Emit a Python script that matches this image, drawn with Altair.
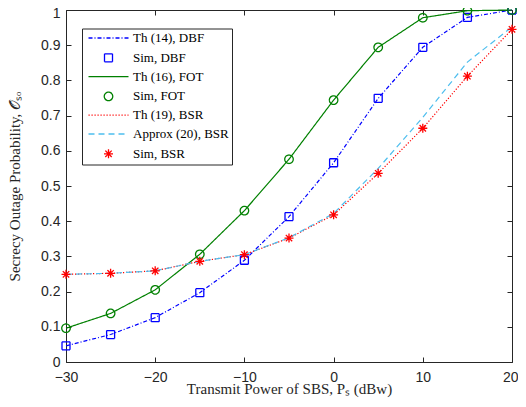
import altair as alt
import pandas as pd

# ---- data ----
power = [-30, -25, -20, -15, -10, -5, 0, 5, 10, 15, 20]
dbf = [0.046, 0.078, 0.126, 0.197, 0.289, 0.413, 0.566, 0.749, 0.894, 0.979, 1.0]
fot = [0.096, 0.138, 0.205, 0.306, 0.430, 0.576, 0.744, 0.894, 0.978, 0.998, 1.0]
bsr = [0.249, 0.252, 0.259, 0.286, 0.305, 0.352, 0.418, 0.536, 0.664, 0.812, 0.945]
approx = [0.249, 0.252, 0.259, 0.286, 0.305, 0.353, 0.422, 0.550, 0.695, 0.852, 0.952]

x_ticks = [-30, -20, -10, 0, 10, 20]
y_ticks = [0, 0.1, 0.2, 0.3, 0.4, 0.5, 0.6, 0.7, 0.8, 0.9, 1.0]

names = ["Th (14), DBF", "Sim, DBF", "Th (16), FOT", "Sim, FOT",
         "Th (19), BSR", "Approx (20), BSR", "Sim, BSR"]
colors = ["#0000ff", "#0000ff", "#008000", "#008000", "#ff0000", "#4dbeee", "#ff0000"]
dashes = [[4, 2, 1, 2], [1, 0], [1, 0], [1, 0], [1.2, 1.8], [6, 4], [1, 0]]
line_path = "M-4,0H4"
square = "M-0.8,-0.8H0.8V0.8H-0.8Z"
circle = "M0.85,0A0.85,0.85,0,1,1,-0.85,0A0.85,0.85,0,1,1,0.85,0Z"
star = "M-0.9,0H0.9M0,-0.9V0.9M-0.64,-0.64L0.64,0.64M-0.64,0.64L0.64,-0.64"
shapes = [line_path, square, line_path, circle, line_path, line_path, star]

rows = []
for name, vals in [("Th (14), DBF", dbf), ("Sim, DBF", dbf), ("Th (16), FOT", fot),
                   ("Sim, FOT", fot), ("Th (19), BSR", bsr),
                   ("Approx (20), BSR", approx), ("Sim, BSR", bsr)]:
    for p, v in zip(power, vals):
        rows.append({"p": p, "v": v, "series": name})
df = pd.DataFrame(rows)

xscale = alt.Scale(domain=[-30, 20], nice=False)
yscale = alt.Scale(domain=[0, 1], nice=False)

common = dict(offset=-5, tickSize=5, domain=False, grid=False, labelFlush=False,
              labelFont="Liberation Sans", labelFontSize=14, labelColor="#262626",
              tickColor="#262626", titleFont="Liberation Serif", titleFontSize=15,
              titleFontWeight="normal", titleColor="#262626")
xaxis = alt.Axis(values=x_ticks, title="Transmit Power of SBS, Pₛ (dBw)",
                 labelPadding=8, titlePadding=9, titleBaseline="alphabetic",
                 labelAlign={"condition": {"test": "datum.value == 20", "value": "right"}, "value": "center"},
                 labelOffset={"condition": {"test": "datum.value == 20", "value": 6}, "value": 0},
                 **common)
yaxis = alt.Axis(values=y_ticks, format=".1~f", title="Secrecy Outage Probability, 𝒪ₛₒ",
                 labelPadding=6, titlePadding=18,
                 labelOffset={"condition": {"test": "datum.value == 1", "value": 3}, "value": 0},
                 **common)

base = alt.Chart(df)

def line_layer(name, color, dash):
    return base.transform_filter(alt.datum.series == name).mark_line(
        color=color, strokeDash=dash, strokeWidth=1.2
    ).encode(x=alt.X("p:Q", scale=xscale, axis=xaxis), y=alt.Y("v:Q", scale=yscale, axis=yaxis))

lines = [line_layer("Th (14), DBF", "#0000ff", [4, 2, 1, 2]),
         line_layer("Th (16), FOT", "#008000", [1, 0]),
         line_layer("Th (19), BSR", "#ff0000", [1.2, 1.8]),
         line_layer("Approx (20), BSR", "#4dbeee", [6, 4])]

points = base.transform_filter(
    alt.FieldOneOfPredicate(field="series", oneOf=["Sim, DBF", "Sim, FOT", "Sim, BSR"])
).mark_point(filled=False, size=100, strokeWidth=1.3, opacity=1).encode(
    x=alt.X("p:Q", scale=xscale, axis=xaxis),
    y=alt.Y("v:Q", scale=yscale, axis=yaxis),
    color=alt.Color("series:N", scale=alt.Scale(domain=names, range=colors), legend=alt.Legend(title=None)),
    shape=alt.Shape("series:N", scale=alt.Scale(domain=names, range=shapes), legend=alt.Legend(title=None)),
    strokeDash=alt.StrokeDash("series:N", scale=alt.Scale(domain=names, range=dashes), legend=alt.Legend(title=None)),
)

main = alt.layer(*lines, points)

frame_axes = base.mark_point(opacity=0).encode(
    x=alt.X("p:Q", scale=xscale, axis=alt.Axis(orient="top", values=x_ticks, labels=False,
                                                title=None, offset=-5, tickSize=5, domain=False, grid=False,
                                                tickColor="#262626")),
    y=alt.Y("v:Q", scale=yscale, axis=alt.Axis(orient="right", values=y_ticks, labels=False,
                                                title=None, offset=-5, tickSize=5, domain=False, grid=False,
                                                tickColor="#262626")),
)

chart = alt.layer(main, frame_axes).resolve_axis(x="independent", y="independent").properties(
    width=446, height=352,
    autosize=alt.AutoSizeParams(type="none"),
    padding={"left": 58, "top": 2, "right": 6, "bottom": 37},
).configure_view(stroke="#262626", strokeWidth=1).configure_legend(
    orient="none", legendX=16, legendY=18.5, padding=3, strokeColor="#262626", fillColor="white",
    cornerRadius=0, labelFont="Liberation Serif", labelFontSize=13, labelColor="black",
    symbolSize=100, symbolStrokeWidth=1.3, symbolOffset=17, labelOffset=18, rowPadding=4.8,
    symbolType="circle"
)

chart.save("out.html", embed_options={"renderer": "svg", "actions": False})
